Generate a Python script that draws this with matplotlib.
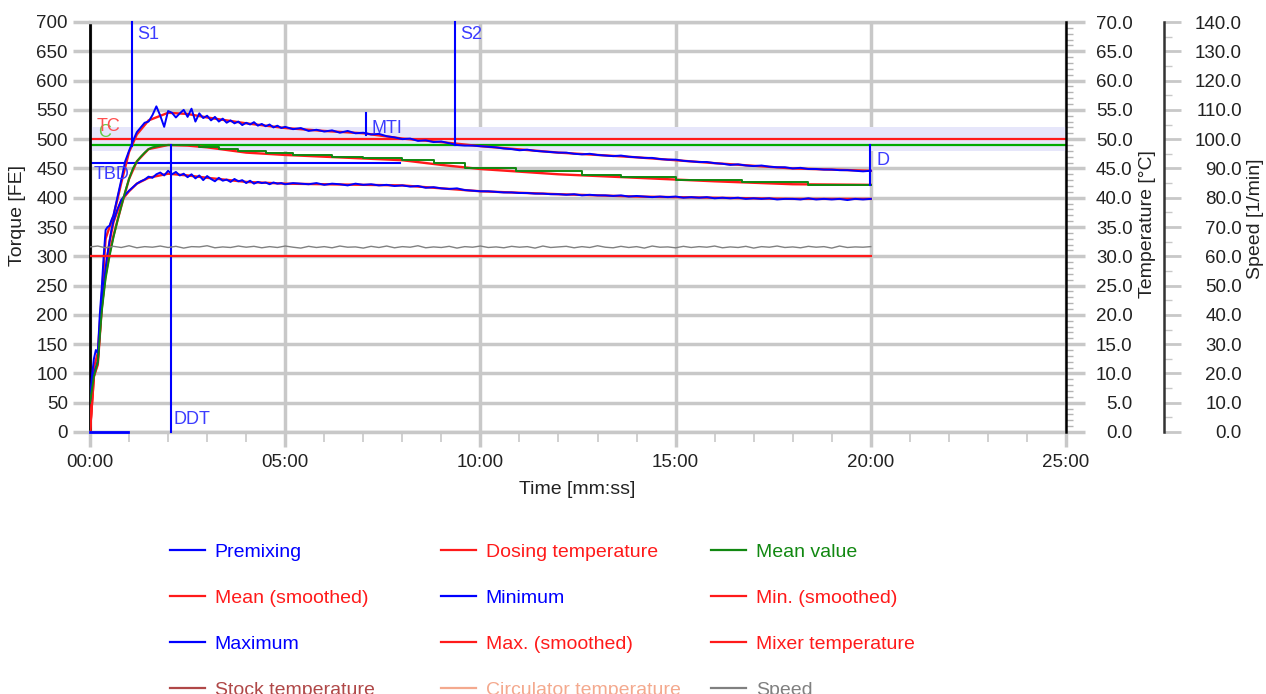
import numpy as np
import matplotlib
matplotlib.use('Agg')
import matplotlib.pyplot as plt
from matplotlib.lines import Line2D
from matplotlib.ticker import MultipleLocator, FuncFormatter

plt.rcParams['font.family'] = ['Liberation Sans', 'DejaVu Sans']

# --- torque traces [FE], time in minutes ---
t_early = [0, 0.05, 0.1, 0.15, 0.2, 0.25, 0.3, 0.35, 0.4, 0.45, 0.5, 0.55, 0.6, 0.7, 0.8, 0.9, 1.0]
t_mid = np.round(np.arange(1.1, 5.05, 0.1), 2)
t_late = np.round(np.arange(5.2, 20.05, 0.2), 2)

max_early = [55, 95, 125, 140, 135, 200, 245, 300, 345, 350, 352, 362, 370, 400, 430, 462, 480]
max_mid = [497, 512, 520, 528, 530, 541, 556, 540, 521, 548,
           545, 537, 544, 550, 538, 552, 530, 544, 536, 540,
           532, 538, 530, 535, 528, 532, 527, 530, 524, 528,
           525, 529, 523, 526, 522, 525, 520, 523, 519, 521]
max_late = [517, 519, 514, 516, 513, 515, 511, 514, 510, 511,
            508, 509, 505, 503, 500, 501, 497, 498, 495, 496,
            493, 490, 489, 489, 488, 487, 486, 484, 483, 481,
            482, 480, 479, 478, 477, 477, 475, 474, 475, 473,
            472, 471, 472, 470, 469, 468, 468, 466, 465, 465,
            463, 462, 461, 461, 459, 458, 456, 457, 455, 454,
            455, 453, 452, 452, 450, 451, 449, 449, 448, 448,
            447, 447, 446, 445, 446]

min_early = [50, 85, 100, 110, 120, 175, 215, 250, 280, 305, 325, 345, 360, 380, 396, 405, 412]
min_mid = [418, 424, 428, 431, 436, 434, 440, 443, 438, 446,
           440, 444, 438, 441, 435, 440, 433, 438, 430, 437,
           432, 428, 434, 429, 431, 427, 432, 428, 430, 425,
           429, 424, 427, 425, 426, 423, 426, 424, 425, 423]
min_late = [425, 424, 423, 425, 422, 424, 423, 421, 424, 422,
            423, 421, 422, 420, 421, 419, 420, 417, 418, 416,
            415, 416, 413, 412, 411, 411, 410, 409, 409, 408,
            408, 407, 407, 406, 406, 405, 406, 404, 405, 404,
            404, 403, 404, 402, 403, 402, 401, 402, 401, 402,
            400, 401, 400, 401, 399, 400, 399, 400, 398, 399,
            398, 399, 397, 398, 398, 397, 399, 397, 398, 397,
            398, 396, 398, 397, 398]

# mean value: smooth rise, then the stepped decline
t_mean_rise = [0, 0.1, 0.2, 0.3, 0.4, 0.5, 0.6, 0.7, 0.8, 0.9, 1.0, 1.1, 1.2, 1.3, 1.4,
               1.5, 1.6, 1.8, 2.0, 2.3]
mean_rise = [50, 95, 120, 205, 262, 300, 332, 360, 385, 410, 432, 450, 462, 470, 477,
             483, 486, 489, 490, 490]
t_mean_steps = [2.3, 2.8, 3.3, 3.8, 4.5, 5.2, 6.2, 7.0, 8.0, 8.8,
                9.6, 10.9, 12.6, 13.6, 15.0, 16.7, 18.4, 20.0]
mean_steps = [490, 487, 483, 479, 476, 473, 470, 467, 464, 459,
              451, 445, 439, 436, 431, 426, 422, 422]

t_smooth = [0, 0.1, 0.2, 0.3, 0.4, 0.5, 0.6, 0.8, 1.0, 1.2, 1.5, 2.0, 2.5, 3.0,
            4.0, 5.0, 6.0, 7.0, 8.0, 9.0, 10.0, 12.0, 14.0, 16.0, 18.0, 20.0]
max_smooth = [0, 110, 135, 230, 330, 350, 368, 425, 478, 508, 532, 545, 543, 537,
              527, 519, 514, 510, 501, 495, 488, 477, 469, 459, 450, 446]
min_smooth = [0, 95, 115, 210, 275, 325, 358, 395, 411, 424, 434, 441, 438, 434,
              427, 424, 423, 422, 421, 416, 411, 406, 402, 400, 398, 398]
mean_smooth = [0, 95, 120, 215, 268, 305, 335, 385, 432, 462, 483, 490, 489, 486,
               477, 473, 470, 467, 464, 456, 449, 440, 434, 428, 423, 422]

premix_t = [0, 0.97]
premix_val = [0, 0]

# --- temperature [°C] and speed [1/min] ---
temp_t = [0, 20]
dosing_temp = [30, 30]

speed_t = np.round(np.arange(0, 20.05, 0.2), 2)
speed = [63.2, 63.5, 62.9, 63.4, 63.0, 63.6, 62.9, 63.3, 63.1, 63.5,
         63.0, 63.4, 62.8, 63.3, 63.2, 63.6, 62.9, 63.2, 63.0, 63.5,
         63.1, 63.4, 62.9, 63.3, 63.0, 63.5, 63.1, 62.8, 63.4, 63.0,
         63.3, 62.9, 63.5, 63.1, 63.2, 62.8, 63.4, 63.0, 63.5, 62.9,
         63.3, 63.1, 63.6, 62.9, 63.2, 63.0, 63.4, 62.8, 63.3, 63.1,
         63.5, 63.0, 63.2, 62.9, 63.4, 63.1, 63.3, 62.8, 63.5, 63.0,
         63.2, 63.4, 62.9, 63.3, 63.0, 63.6, 63.1, 62.9, 63.4, 63.0,
         63.3, 62.8, 63.5, 63.1, 63.2, 62.9, 63.4, 63.0, 63.3, 63.1,
         63.5, 62.9, 63.2, 63.0, 63.4, 62.8, 63.3, 63.1, 63.5, 63.0,
         63.2, 62.9, 63.4, 63.1, 63.3, 62.8, 63.5, 63.0, 63.2, 63.1, 63.3]

# consistency lines and tolerance band [FE]
target_line = 500
mean_line = 490
tol_band = (480, 520)
tbd_line = 460
tbd_end = 7.95

# evaluation markers: (time, lower, upper)
s1 = (1.08, 488, 700)
s2 = (9.36, 490, 700)
ddt = (2.08, 0, 490)
d_mark = (19.97, 421, 490)
mti = (7.08, 507, 545)

BLUE = '#0000ff'
RED = '#ff1a1a'
GREEN = '#118811'
GRID = '#c8c8c8'
TXT = '#222222'
LBL = '#3c3cff'

W, H = 1266, 694
fig = plt.figure(figsize=(W / 100, H / 100), dpi=100)
ax = fig.add_axes([90 / W, 1 - 432 / H, 976 / W, 410 / H])

ax.axhspan(*tol_band, color='#e6e6fa', lw=0, zorder=1)
ax.axhline(target_line, color=RED, lw=1.6, zorder=2)
ax.axhline(mean_line, color='#00aa00', lw=1.6, zorder=2)
ax.plot([0, tbd_end], [tbd_line, tbd_line], color=BLUE, lw=1.5, zorder=2)

t_max = np.concatenate([t_early, t_mid, t_late])
ax.plot(t_smooth, max_smooth, color=RED, lw=1.7, zorder=3)
ax.plot(t_smooth, min_smooth, color=RED, lw=1.7, zorder=3)
ax.plot(t_smooth, mean_smooth, color=RED, lw=1.7, zorder=3)
ax.plot(t_max, np.concatenate([max_early, max_mid, max_late]), color=BLUE, lw=1.4, zorder=4)
ax.plot(t_max, np.concatenate([min_early, min_mid, min_late]), color=BLUE, lw=1.4, zorder=4)
ax.plot(t_mean_rise, mean_rise, color=GREEN, lw=1.4, zorder=4)
ax.plot(t_mean_steps, mean_steps, color=GREEN, lw=1.4, drawstyle='steps-post', zorder=4)
ax.plot(premix_t, premix_val, color=BLUE, lw=2, zorder=6, clip_on=False)

for tm, lo, hi in (s1, s2, ddt, d_mark, mti):
    ax.plot([tm, tm], [lo, hi], color=BLUE, lw=1.5, zorder=5, clip_on=False)

lab = dict(color=LBL, fontsize=13, va='center', ha='left', zorder=6)
ax.text(1.2, 678, 'S1', **lab)
ax.text(9.48, 678, 'S2', **lab)
ax.text(2.14, 22, 'DDT', **lab)
ax.text(20.15, 464, 'D', **lab)
ax.text(7.2, 519, 'MTI', **lab)
ax.text(0.1, 440, 'TBD', **lab)
ax.text(0.2, 512, 'C', color='#66cc44', fontsize=13, va='center', ha='left', zorder=6)
ax.text(0.17, 522, 'TC', color='#ff5050', fontsize=13, va='center', ha='left', zorder=6)

ax.set_xlim(0, 25)
ax.set_ylim(0, 700)
ax.xaxis.set_major_locator(MultipleLocator(5))
ax.xaxis.set_minor_locator(MultipleLocator(1))
ax.xaxis.set_major_formatter(FuncFormatter(lambda v, p: f'{int(round(v)):02d}:00'))
ax.yaxis.set_major_locator(MultipleLocator(50))
ax.grid(True, which='major', color=GRID, lw=2.5)
ax.set_axisbelow(True)
ax.tick_params(axis='both', which='major', color=GRID, width=2.5, labelsize=13.5,
               labelcolor=TXT)
ax.tick_params(axis='x', which='major', length=11, pad=5)
ax.tick_params(axis='x', which='minor', length=7, width=1.2, color=GRID)
ax.tick_params(axis='y', which='major', length=12, pad=4)
ax.spines['left'].set_color('black')
ax.spines['left'].set_linewidth(2)
for s in ('top', 'bottom'):
    ax.spines[s].set_color(GRID)
    ax.spines[s].set_linewidth(2.5)
ax.spines['right'].set_visible(False)

# temperature axis
ax_t = ax.twinx()
ax_t.plot(temp_t, dosing_temp, color=RED, lw=1.6, zorder=3)
ax_t.set_ylim(0, 70)
ax_t.yaxis.set_major_locator(MultipleLocator(5))
ax_t.yaxis.set_minor_locator(MultipleLocator(1))
ax_t.yaxis.set_major_formatter(FuncFormatter(lambda v, p: f'{v:.1f}'))
ax_t.tick_params(axis='y', which='major', length=14, width=2.5, color=GRID,
                 labelsize=13.5, labelcolor=TXT, pad=34)
ax_t.tick_params(axis='y', which='minor', length=5, width=1, color='#b4b4b4')
for lbl in ax_t.get_yticklabels():
    lbl.set_ha('right')
for s in ('top', 'bottom', 'left'):
    ax_t.spines[s].set_visible(False)
ax_t.spines['right'].set_color('black')
ax_t.spines['right'].set_linewidth(1.8)

# speed axis
ax_s = ax.twinx()
ax_s.plot(speed_t, speed, color='#808080', lw=1.0, zorder=3)
ax_s.set_ylim(0, 140)
ax_s.spines['right'].set_position(('outward', 98 * 0.72))
ax_s.yaxis.set_major_locator(MultipleLocator(10))
ax_s.yaxis.set_minor_locator(MultipleLocator(5))
ax_s.yaxis.set_major_formatter(FuncFormatter(lambda v, p: f'{v:.1f}'))
ax_s.tick_params(axis='y', which='major', length=12, width=2, color=GRID,
                 labelsize=13.5, labelcolor=TXT, pad=44)
ax_s.tick_params(axis='y', which='minor', length=6, width=1, color=GRID)
for lbl in ax_s.get_yticklabels():
    lbl.set_ha('right')
for s in ('top', 'bottom', 'left'):
    ax_s.spines[s].set_visible(False)
ax_s.spines['right'].set_color('#333333')
ax_s.spines['right'].set_linewidth(1.8)

# axis titles
fig.text(18 / W, 1 - 216 / H, 'Torque [FE]', rotation=90, ha='center', va='center',
         fontsize=14, color=TXT)
fig.text(1147 / W, 1 - 224 / H, 'Temperature [°C]', rotation=90, ha='center',
         va='center', fontsize=14, color=TXT)
fig.text(1255 / W, 1 - 219 / H, 'Speed [1/min]', rotation=90, ha='center',
         va='center', fontsize=14, color=TXT)
fig.text(577 / W, 1 - 489 / H, 'Time [mm:ss]', ha='center', va='center',
         fontsize=14, color=TXT)

# legend, laid out as three fixed columns
legend_cols = [
    [('Premixing', BLUE), ('Mean (smoothed)', RED), ('Maximum', BLUE),
     ('Stock temperature', '#b04848')],
    [('Dosing temperature', RED), ('Minimum', BLUE), ('Max. (smoothed)', RED),
     ('Circulator temperature', '#f4a98e')],
    [('Mean value', GREEN), ('Min. (smoothed)', RED), ('Mixer temperature', RED),
     ('Speed', '#808080')],
]
col_x = [170, 441, 711]
for cx, entries in zip(col_x, legend_cols):
    handles = [Line2D([], [], color=c, lw=1.6) for _, c in entries]
    labels = [n for n, _ in entries]
    fig.legend(handles, labels, loc='upper left', bbox_to_anchor=(cx / W, 1 - 543 / H),
               frameon=False, fontsize=14, labelcolor='linecolor', borderpad=0,
               borderaxespad=0, handlelength=1.8, handletextpad=0.5, labelspacing=1.47)

fig.savefig('out.png', dpi=100)
